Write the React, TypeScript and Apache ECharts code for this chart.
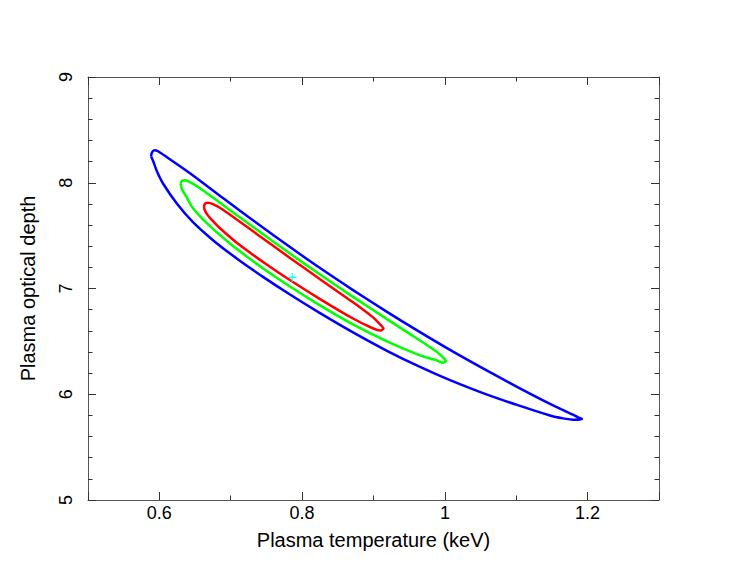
import { useEffect, useRef } from "react";
import * as echarts from "echarts";

// Confidence contours (temperature keV, optical depth), traced clockwise
const blueContour: [number, number][] = [
  [0.5883, 8.251], [0.5897, 8.288], [0.5932, 8.307], [0.5981, 8.298], [0.6107, 8.241],
  [0.6429, 8.09], [0.6891, 7.855], [0.7368, 7.617], [0.783, 7.392], [0.8251, 7.193],
  [0.8713, 6.985], [0.9189, 6.779], [0.9652, 6.587], [1.0072, 6.419], [1.0534, 6.244],
  [1.1011, 6.07], [1.1473, 5.909], [1.1795, 5.807], [1.1865, 5.782], [1.1921, 5.767],
  [1.1879, 5.759], [1.1795, 5.76], [1.1655, 5.772], [1.1473, 5.799], [1.1011, 5.899],
  [1.0534, 6.011], [1.0072, 6.133], [0.9652, 6.258], [0.9189, 6.411], [0.8713, 6.585],
  [0.8251, 6.767], [0.783, 6.943], [0.7452, 7.11], [0.7088, 7.282], [0.6751, 7.457],
  [0.6471, 7.627], [0.6247, 7.801], [0.6051, 7.993], [0.5967, 8.106], [0.5911, 8.208],
];

const greenContour: [number, number][] = [
  [0.6296, 7.996], [0.6317, 8.019], [0.6359, 8.024], [0.6429, 8.005], [0.6569, 7.948],
  [0.6891, 7.79], [0.7368, 7.555], [0.783, 7.33], [0.8251, 7.132], [0.8713, 6.921],
  [0.9189, 6.71], [0.9652, 6.508], [0.989, 6.399], [0.9974, 6.348], [1.0016, 6.314],
  [0.9974, 6.299], [0.9862, 6.326], [0.9652, 6.368], [0.9189, 6.5], [0.8713, 6.66],
  [0.8251, 6.84], [0.783, 7.019], [0.741, 7.211], [0.7032, 7.402], [0.6709, 7.589],
  [0.6471, 7.759], [0.6373, 7.873], [0.6317, 7.939],
];

const redContour: [number, number][] = [
  [0.6625, 7.778], [0.6639, 7.802], [0.6681, 7.811], [0.6751, 7.797], [0.6891, 7.745],
  [0.7368, 7.514], [0.783, 7.289], [0.8251, 7.088], [0.8713, 6.869], [0.8993, 6.727],
  [0.9091, 6.661], [0.914, 6.621], [0.9091, 6.603], [0.8951, 6.636], [0.8713, 6.716],
  [0.8251, 6.9], [0.7872, 7.061], [0.7508, 7.225], [0.713, 7.408], [0.6849, 7.57],
  [0.6737, 7.646], [0.6667, 7.703], [0.6632, 7.75],
];

const bestFit: [number, number][] = [[0.786, 7.105]];

const xMin = 0.5;
const xMax = 1.3;
const yMin = 5;
const yMax = 9;

const closeLoop = (pts: [number, number][]) => [...pts, pts[0]];

const FONT = "Liberation Sans";
const frameColor = "#555";
const tickColor = "#333";

export default function App() {
  const ref = useRef<HTMLDivElement>(null);

  useEffect(() => {
    document.body.style.margin = "0";
    const chart = echarts.init(ref.current!, null, { renderer: "svg" });

    const xCommon = {
      type: "value" as const,
      min: xMin,
      max: xMax,
      minInterval: 0.2,
      maxInterval: 0.2,
      axisLine: { show: true, onZero: false, lineStyle: { color: frameColor, width: 1 } },
      axisTick: { show: true, inside: true, length: 8, lineStyle: { color: tickColor, width: 1 } },
      minorTick: { show: true, splitNumber: 2, length: 4.5, lineStyle: { color: tickColor, width: 1 } },
      splitLine: { show: false },
      minorSplitLine: { show: false },
    };
    const yCommon = {
      type: "value" as const,
      min: yMin,
      max: yMax,
      interval: 1,
      axisLine: { show: true, onZero: false, lineStyle: { color: frameColor, width: 1 } },
      axisTick: { show: true, inside: true, length: 8, lineStyle: { color: tickColor, width: 1 } },
      minorTick: { show: true, splitNumber: 5, length: 4.5, lineStyle: { color: tickColor, width: 1 } },
      splitLine: { show: false },
      minorSplitLine: { show: false },
    };

    const lineSeries = (data: [number, number][], color: string) => ({
      type: "line" as const,
      data: closeLoop(data),
      showSymbol: false,
      smooth: 0.25,
      lineStyle: { color, width: 2.5, join: "round" as const },
      itemStyle: { color },
      silent: true,
    });

    chart.setOption({
      animation: false,
      backgroundColor: "#ffffff",
      grid: {
        left: 88,
        right: 88,
        top: 77,
        bottom: 78,
        containLabel: false,
        outerBoundsMode: "none",
      },
      xAxis: [
        {
          ...xCommon,
          position: "bottom",
          name: "Plasma temperature (keV)",
          nameLocation: "middle",
          nameGap: 30,
          nameTextStyle: { fontFamily: FONT, fontSize: 20, color: "#000" },
          axisLabel: {
            show: true,
            showMinLabel: false,
            showMaxLabel: false,
            margin: 4,
            fontFamily: FONT,
            fontSize: 18,
            color: "#000",
          },
        },
        {
          ...xCommon,
          position: "top",
          axisLabel: { show: false },
        },
      ],
      yAxis: [
        {
          ...yCommon,
          position: "left",
          name: "Plasma optical depth",
          nameLocation: "middle",
          nameGap: 50,
          nameTextStyle: { fontFamily: FONT, fontSize: 20, color: "#000" },
          axisLabel: {
            show: true,
            rotate: 90,
            margin: 13,
            fontFamily: FONT,
            fontSize: 18,
            color: "#000",
          },
        },
        {
          ...yCommon,
          position: "right",
          axisLabel: { show: false },
        },
      ],
      series: [
        lineSeries(blueContour, "#0000ff"),
        lineSeries(greenContour, "#00ff00"),
        lineSeries(redContour, "#ff0000"),
        {
          type: "scatter",
          data: bestFit,
          symbol: "path://M4.35 0H5.65V10H4.35ZM0 4.35H10V5.65H0Z",
          symbolSize: 9,
          itemStyle: { color: "#00ffff", opacity: 1 },
          silent: true,
          z: 5,
        },
      ],
    });

    return () => chart.dispose();
  }, []);

  return <div ref={ref} style={{ width: 747, height: 578 }} />;
}
